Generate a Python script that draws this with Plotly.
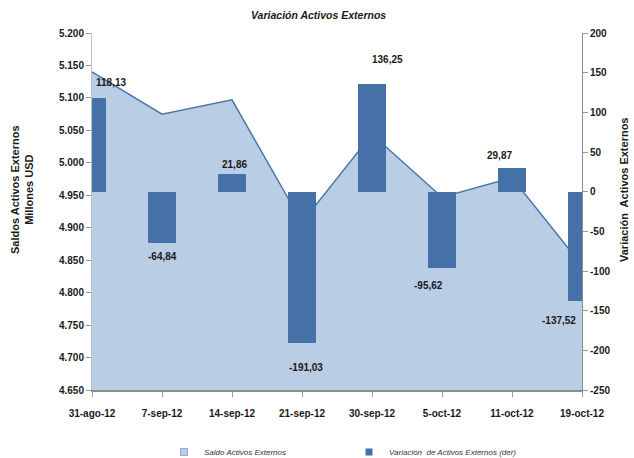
import plotly.graph_objects as go

categories = ["31-ago-12", "7-sep-12", "14-sep-12", "21-sep-12",
              "30-sep-12", "5-oct-12", "11-oct-12", "19-oct-12"]
saldo = [5140, 5075, 5097, 4908, 5044, 4947, 4977, 4842]
variacion = [118.13, -64.84, 21.86, -191.03, 136.25, -95.62, 29.87, -137.52]
left_ticks = [4650 + 50 * i for i in range(12)]
right_ticks = [-250 + 50 * i for i in range(10)]

# label placement tweaks (style only)
label_gap = [15, 13, 10, 24, 24, 18, 12, 20]
label_dx = [19, 0, 2, 4, 15, -14, -13, -23]

xs = list(range(len(categories)))

FILL = "#b9cde5"
LINE = "#4a76a8"
BAR = "#4571a8"
TXT = "#1a1a1a"
SANS = "Liberation Sans"
NAME_AREA = "Saldo Activos Externos"
NAME_BAR = "Variación  de Activos Externos (der)"

# plot area in pixels
L, R, T, B = 92, 582, 33, 390
W, H = R - L, B - T


def px(xp):
    return (xp - L) / W


def py(yp):
    return (B - yp) / H


fig = go.Figure()
fig.add_trace(go.Scatter(
    x=xs, y=saldo, mode="lines", fill="tozeroy", fillcolor=FILL,
    line=dict(color=LINE, width=1.5), name=NAME_AREA, showlegend=False,
    yaxis="y", hoverinfo="skip"))
fig.add_trace(go.Bar(
    x=xs, y=variacion, width=0.4, marker=dict(color=BAR, line=dict(width=0)),
    name=NAME_BAR, yaxis="y2", showlegend=False))

# legend entries with small square swatches (as in the original)
fig.add_trace(go.Scatter(
    x=[None], y=[None], mode="markers", name=NAME_AREA,
    marker=dict(symbol="square", size=7, color=FILL, line=dict(color="#8ea9cf", width=1))))
fig.add_trace(go.Scatter(
    x=[None], y=[None], mode="markers", name=NAME_BAR, yaxis="y2",
    marker=dict(symbol="square", size=7, color=BAR, line=dict(width=0))))


def fmt(v):
    return f"{v:.2f}".replace(".", ",")


for i, v in enumerate(variacion):
    fig.add_annotation(
        x=xs[i], y=v, xref="x", yref="y2", text=f"<b>{fmt(v)}</b>", showarrow=False,
        yshift=label_gap[i] if v >= 0 else -label_gap[i], xshift=label_dx[i],
        font=dict(family=SANS, size=10, color=TXT),
        yanchor="middle", xanchor="center")

fig.add_annotation(
    x=px(318), y=py(15), xref="paper", yref="paper",
    text="<b><i>Variación Activos Externos</i></b>", yanchor="middle",
    showarrow=False, font=dict(family=SANS, size=10.5, color=TXT))

fig.add_annotation(
    xref="paper", yref="paper", x=px(22), y=py(190),
    text="<b>Saldos Activos Externos<br>Millones USD</b>", textangle=-90,
    showarrow=False, font=dict(family=SANS, size=11, color=TXT),
    xanchor="center", yanchor="middle")
fig.add_annotation(
    xref="paper", yref="paper", x=px(624), y=py(190),
    text="<b>Variación  Activos Externos</b>", textangle=-90,
    showarrow=False, font=dict(family=SANS, size=11, color=TXT),
    xanchor="center", yanchor="middle")

fig.update_layout(
    width=634, height=458,
    margin=dict(l=L, r=634 - R, t=T, b=458 - B, autoexpand=False),
    paper_bgcolor="white", plot_bgcolor="white",
    showlegend=True,
    bargap=0,
    font=dict(family=SANS, size=10, color=TXT),
    xaxis=dict(
        range=[0, 7], tickvals=xs, ticktext=[f"<b>{c}</b>" for c in categories],
        ticks="outside", ticklen=5, tickcolor="#999999", ticklabelstandoff=8,
        showline=True, linecolor="#8c8c8c", linewidth=1.5, showgrid=False,
        zeroline=False, automargin=False,
        tickfont=dict(family=SANS, size=10, color=TXT)),
    yaxis=dict(
        range=[4650, 5200], tickvals=left_ticks,
        ticktext=[f"<b>{v/1000:.3f}</b>" for v in left_ticks],
        ticks="outside", ticklen=5, tickcolor="#999999",
        showline=True, linecolor="#c0c0c0", showgrid=False, zeroline=False,
        automargin=False, tickfont=dict(family=SANS, size=10, color=TXT)),
    yaxis2=dict(
        range=[-250, 200], tickvals=right_ticks,
        ticktext=[f"<b>{v}</b>" for v in right_ticks],
        overlaying="y", side="right",
        ticks="outside", ticklen=5, tickcolor="#999999",
        showline=True, linecolor="#8c8c8c", showgrid=False, zeroline=False,
        automargin=False, tickfont=dict(family=SANS, size=10, color=TXT)),
    legend=dict(
        orientation="h", x=px(164), xanchor="left",
        yref="container", y=(458 - 452) / 458, yanchor="middle",
        font=dict(family=SANS, size=8, color="#333333", style="italic"),
        entrywidth=140, itemwidth=30, bgcolor="rgba(0,0,0,0)"),
)

fig.write_html("out.html", config={"displayModeBar": False},
               post_script="document.body.style.margin='0';")
